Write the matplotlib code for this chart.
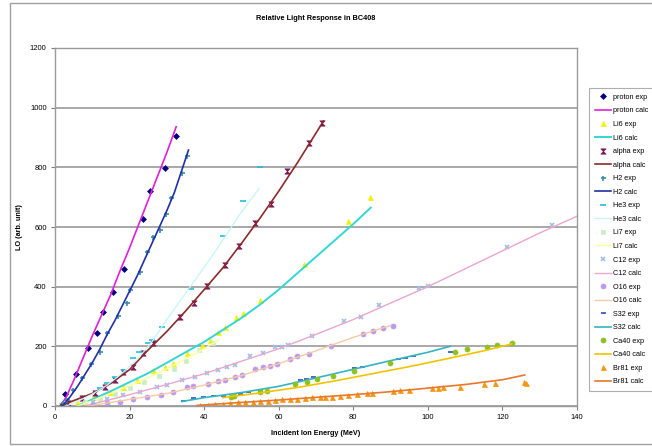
import matplotlib
matplotlib.use("Agg")
import matplotlib.pyplot as plt
from matplotlib.patches import Rectangle
from matplotlib.path import Path

plt.rcParams['font.family'] = ['Liberation Sans', 'DejaVu Sans']

# measured (exp) and calculated (calc) light output vs energy, per ion
proton_exp_e = [2.7, 5.6, 8.9, 11.3, 13.0, 15.5, 18.5, 23.5, 25.5, 29.5, 32.4]
proton_exp_lo = [39, 107, 195, 244, 314, 381, 458, 627, 722, 797, 906]
proton_calc_e = [1.5, 3, 5, 7.5, 10, 12.5, 15, 17.5, 20, 22.5, 25, 27.5, 30, 32.5]
proton_calc_lo = [0, 30, 85, 160, 235, 305, 375, 455, 530, 610, 690, 770, 850, 936]

li6_exp_e = [5.8, 10.3, 14.8, 18.3, 21.9, 26.4, 29.5, 31.7, 35.4, 39.3, 41.6,
             43.8, 45.6, 48.6, 50.3, 55.0, 66.9, 78.5, 84.5]
li6_exp_lo = [14, 31, 48, 65, 87, 121, 130, 143, 177, 204, 221,
              248, 264, 300, 313, 354, 475, 621, 702]
li6_calc_e = [6, 10, 15, 20, 25, 30, 35, 40, 45, 50, 55, 60, 65, 70, 75, 80, 84.7]
li6_calc_lo = [0, 22, 50, 80, 110, 145, 180, 215, 255, 295, 340, 390, 445, 500, 555, 610, 665]

alpha_exp_e = [1.8, 3.6, 7.2, 10.7, 13.4, 16.1, 18.3, 21.0, 23.7, 26.4, 33.6,
               37.2, 40.8, 45.6, 49.3, 53.6, 57.8, 62.3, 68.2, 71.5]
alpha_exp_lo = [0, 9, 26, 43, 63, 87, 115, 132, 177, 210, 298,
                344, 403, 474, 535, 612, 676, 788, 881, 948]
alpha_calc_e = [1.5, 5, 10, 15, 20, 25, 30, 35, 40, 45, 50, 55, 60, 65, 70, 72]
alpha_calc_lo = [0, 18, 42, 76, 122, 188, 250, 318, 390, 463, 545, 630, 720, 815, 915, 955]

h2_exp_e = [2.2, 3.1, 4.9, 7.2, 9.7, 12.1, 13.9, 17.0, 19.2, 20.1, 22.8, 24.8,
            26.4, 28.2, 29.8, 31.1, 34.0, 35.5]
h2_exp_lo = [9, 20, 54, 93, 140, 182, 244, 302, 344, 389, 450, 517,
             567, 590, 644, 698, 780, 838]
h2_calc_e = [2, 4, 6, 8, 10, 12, 14, 16, 18, 20, 22, 24, 26, 28, 30, 32, 34, 35.8]
h2_calc_lo = [0, 30, 65, 105, 145, 190, 240, 285, 335, 385, 435, 490, 545, 600, 655, 715, 790, 858]

he3_exp_e = [12.0, 13.9, 16.1, 18.5, 21.0, 22.6, 25.0, 26.0, 28.8, 36.4, 45.0, 50.5, 55.0]
he3_exp_lo = [60, 76, 96, 121, 160, 180, 212, 221, 265, 392, 571, 687, 802]
he3_calc_e = [3, 6, 10, 14, 18, 22, 26, 30, 34, 38, 42, 46, 50, 54.8]
he3_calc_lo = [0, 15, 40, 70, 110, 155, 215, 290, 360, 430, 500, 575, 650, 730]

li7_exp_e = [8, 12, 16, 20, 24, 28, 32, 35, 38.7, 42.3]
li7_exp_lo = [12, 25, 40, 60, 80, 100, 125, 150, 188, 210]
li7_calc_e = [6, 10, 15, 20, 25, 30, 35, 40, 44]
li7_calc_lo = [0, 18, 42, 68, 95, 125, 158, 192, 222]

c12_exp_e = [10.3, 13.9, 18.3, 22.8, 27.3, 30.0, 34.0, 37.5, 40.7, 43.8, 46.0,
             48.3, 52.3, 55.9, 59.0, 60.8, 62.6, 68.8, 77.4, 82.2, 87.0, 97.7,
             100.0, 121.3, 133.4]
c12_exp_lo = [14, 22, 37, 48, 63, 70, 87, 98, 110, 121, 132,
              137, 168, 177, 197, 199, 204, 235, 286, 300, 339, 397,
              402, 532, 607]
c12_calc_e = [8, 15, 20, 30, 40, 50, 60, 70, 80, 90, 100, 110, 120, 130, 140]
c12_calc_lo = [0, 22, 38, 72, 108, 150, 192, 240, 290, 345, 400, 460, 520, 580, 636]

o16_exp_e = [10.3, 13.9, 17.4, 21.0, 24.6, 28.5, 31.7, 35.3, 37.1, 41.1, 43.8,
             45.6, 48.3, 50.1, 53.6, 55.7, 57.7, 59.5, 62.9, 65.0, 68.1, 74.0,
             82.5, 85.4, 88.0, 90.7]
o16_exp_lo = [3, 9, 14, 22, 31, 37, 48, 65, 67, 74, 85,
              87, 96, 104, 123, 130, 134, 141, 159, 167, 175, 202,
              240, 251, 260, 268]
o16_calc_e = [9, 15, 20, 30, 40, 50, 60, 70, 80, 90]
o16_calc_lo = [0, 12, 22, 42, 70, 102, 142, 185, 230, 270]

s32_exp_e = [34.4, 37.1, 39.8, 42.5, 45.1, 49.6, 51.8, 55.0, 65.6, 67.3, 69.1,
             80.2, 82.3, 92.1, 93.9, 95.9, 106.0]
s32_exp_lo = [18, 26, 29, 35, 35, 40, 46, 50, 88, 92, 98,
              126, 132, 157, 162, 168, 180]
s32_calc_e = [34, 40, 50, 60, 70, 80, 90, 100, 106]
s32_calc_lo = [15, 28, 45, 66, 94, 123, 152, 180, 200]

ca40_exp_e = [47.1, 48.0, 55.0, 56.8, 64.4, 67.5, 70.3, 74.6, 80.3, 89.8,
              107.4, 110.4, 115.8, 118.5, 122.5]
ca40_exp_lo = [31, 34, 48, 51, 74, 82, 89, 99, 118, 143,
               181, 191, 197, 204, 212]
ca40_calc_e = [45, 55, 65, 75, 85, 95, 105, 115, 122.5]
ca40_calc_lo = [28, 44, 62, 84, 108, 132, 158, 185, 208]

br81_exp_e = [38.9, 41, 43, 45, 47, 49, 51, 53, 55, 57, 59, 61, 63, 65, 67, 69,
              71, 72.5, 74.2, 76.4, 78.7, 81.1, 83.6, 84.9, 90.7, 92.5, 94.9,
              101.0, 102.8, 104.1, 108.6, 115.1, 118.0, 125.9, 126.2]
br81_exp_lo = [3, 5, 7, 8, 10, 12, 13, 15, 17, 18, 20, 22, 24, 25, 27, 29,
               30, 31, 31, 34, 37, 39, 43, 43, 51, 54, 54,
               59, 59, 63, 65, 73, 76, 82, 76]
br81_calc_e = [38, 50, 60, 70, 80, 90, 100, 110, 120, 126]
br81_calc_lo = [2, 12, 20, 29, 38, 48, 60, 72, 88, 104]

# bow-tie "hourglass" marker for the alpha points
hourglass = Path([(-1, 1), (1, 1), (-1, -1), (1, -1), (-1, 1)],
                 [Path.MOVETO, Path.LINETO, Path.LINETO, Path.LINETO, Path.CLOSEPOLY])

# (label, x, y, kind, color, marker or linewidth, marker size)
series = [
    ("proton exp", proton_exp_e, proton_exp_lo, "exp", "#000080", "D", 3.0),
    ("proton calc", proton_calc_e, proton_calc_lo, "calc", "#e020d8", 1.2, 0),
    ("Li6 exp", li6_exp_e, li6_exp_lo, "exp", "#f2f200", "^", 3.6),
    ("Li6 calc", li6_calc_e, li6_calc_lo, "calc", "#33d6d6", 1.4, 0),
    ("alpha exp", alpha_exp_e, alpha_exp_lo, "exp", "#7a1a5c", hourglass, 3.8),
    ("alpha calc", alpha_calc_e, alpha_calc_lo, "calc", "#8a2a2a", 1.2, 0),
    ("H2 exp", h2_exp_e, h2_exp_lo, "exp", "#3a90a8", "+", 3.6),
    ("H2 calc", h2_calc_e, h2_calc_lo, "calc", "#2030a8", 1.2, 0),
    ("He3 exp", he3_exp_e, he3_exp_lo, "exp", "#22bde0", "_", 4.0),
    ("He3 calc", he3_calc_e, he3_calc_lo, "calc", "#c4f4fa", 0.9, 0),
    ("Li7 exp", li7_exp_e, li7_exp_lo, "exp", "#c6f0c0", "s", 3.2),
    ("Li7 calc", li7_calc_e, li7_calc_lo, "calc", "#ffff9a", 1.0, 0),
    ("C12 exp", c12_exp_e, c12_exp_lo, "exp", "#9ebfea", "x", 3.4),
    ("C12 calc", c12_calc_e, c12_calc_lo, "calc", "#eaa6cc", 1.0, 0),
    ("O16 exp", o16_exp_e, o16_exp_lo, "exp", "#bb99ee", "o", 3.6),
    ("O16 calc", o16_calc_e, o16_calc_lo, "calc", "#f6caa4", 1.0, 0),
    ("S32 exp", s32_exp_e, s32_exp_lo, "exp", "#2a50c0", "_", 3.6),
    ("S32 calc", s32_calc_e, s32_calc_lo, "calc", "#34b4c4", 1.2, 0),
    ("Ca40 exp", ca40_exp_e, ca40_exp_lo, "exp", "#8cc21c", "o", 3.6),
    ("Ca40 calc", ca40_calc_e, ca40_calc_lo, "calc", "#f2c400", 1.2, 0),
    ("Br81 exp", br81_exp_e, br81_exp_lo, "exp", "#f59512", "^", 3.6),
    ("Br81 calc", br81_calc_e, br81_calc_lo, "calc", "#e8782a", 1.2, 0),
]

fig = plt.figure(figsize=(6.52, 4.46), dpi=100)
fig.patches.append(Rectangle((10 / 652, 2 / 446), 1.0, 441 / 446,
                             transform=fig.transFigure, fill=False,
                             edgecolor="#a0a0a0", linewidth=1.0))

ax = fig.add_axes([55 / 652, 40 / 446, 522 / 652, 358 / 446])

handles = []
for label, x, y, kind, color, style, size in series:
    if kind == "exp":
        mew = 1.2 if style in ("+", "x", "_") else 0.5
        h, = ax.plot(x, y, linestyle="none", marker=style, color=color,
                     markersize=size, markeredgewidth=mew, label=label)
    else:
        h, = ax.plot(x, y, color=color, linewidth=style, label=label)
    handles.append(h)

ax.set_xlim(0, 140)
ax.set_ylim(0, 1200)
ax.set_xticks(range(0, 141, 20))
ax.set_yticks(range(0, 1201, 200))
ax.yaxis.grid(True, color="#9a9a9a", linewidth=1.2)
ax.set_axisbelow(True)
for side in ("top", "right", "left", "bottom"):
    ax.spines[side].set_color("#9a9a9a")
    ax.spines[side].set_linewidth(1.0)
ax.tick_params(labelsize=5.5, length=3, width=0.8, color="#808080", pad=3)

ax.set_title("Relative Light Response in BC408", fontsize=5.3,
             fontweight="bold", pad=20)
ax.set_xlabel("Incident Ion Energy (MeV)", fontsize=5.2, fontweight="bold",
              labelpad=6)
ax.set_ylabel("LO (arb. unit)", fontsize=5.2, fontweight="bold", labelpad=5)

leg = fig.legend(handles=handles, loc="upper left",
                 bbox_to_anchor=(589 / 652, 1 - 88 / 446), fontsize=5.2,
                 frameon=True, fancybox=False, edgecolor="#9a9a9a",
                 handlelength=2.2, handletextpad=0.3, labelspacing=0.9,
                 borderpad=0.8, borderaxespad=0)
leg.get_frame().set_linewidth(0.8)

fig.savefig("out.png", dpi=100)
